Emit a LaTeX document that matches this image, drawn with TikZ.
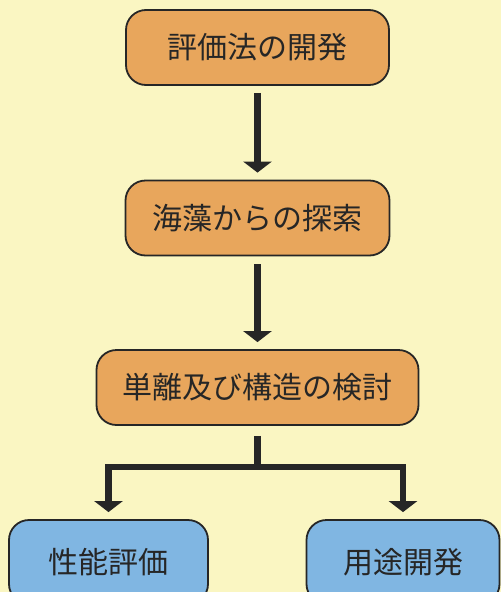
\documentclass[tikz,border=0pt]{standalone}
\usepackage{fontspec}
\newfontfamily\cjk{Noto Sans CJK JP}
\usetikzlibrary{arrows.meta}
\definecolor{bg}{HTML}{FAF6C2}
\definecolor{orangebox}{HTML}{E8A65C}
\definecolor{bluebox}{HTML}{80B6E2}
\definecolor{edge}{HTML}{262626}
\begin{document}
\begin{tikzpicture}[x=1pt,y=-1pt,
  box/.style={draw=edge, line width=1.8pt, rounded corners=20pt, text=edge, inner sep=0pt,
    font=\cjk\fontsize{30}{30}\selectfont},
  obox/.style={box, fill=orangebox, minimum height=75pt},
  bbox/.style={box, fill=bluebox, minimum height=84pt},
  flowline/.style={line width=6.5pt, draw=edge, line join=miter},
  flow/.style={flowline, -{Triangle[length=11pt,width=28pt]}, shorten >=7pt}]
\useasboundingbox (0,0) rectangle (501,592);
\clip (0,0) rectangle (501,592);
\fill[bg] (0,0) rectangle (501,592);
\node[obox, minimum width=263pt] (b1) at (257.5,47.5) {評価法の開発};
\node[obox, minimum width=264pt] (b2) at (257.5,218) {海藻からの探索};
\node[obox, minimum width=322pt] (b3) at (257.5,387.5) {単離及び構造の検討};
\node[bbox, minimum width=199pt] (b4) at (108.5,562) {性能評価};
\node[bbox, minimum width=193pt] (b5) at (403,562) {用途開発};
\draw[flow, shorten <=7pt] (b1.south) -- (b2.north);
\draw[flow, shorten <=8pt] (b2.south) -- (b3.north);
\coordinate (j) at (257.5,467);
\draw[flowline, shorten <=10pt] (b3.south) -- (j);
\draw[flow] (j) -| (b4.north);
\draw[flow] (j) -| (b5.north);
\end{tikzpicture}
\end{document}
